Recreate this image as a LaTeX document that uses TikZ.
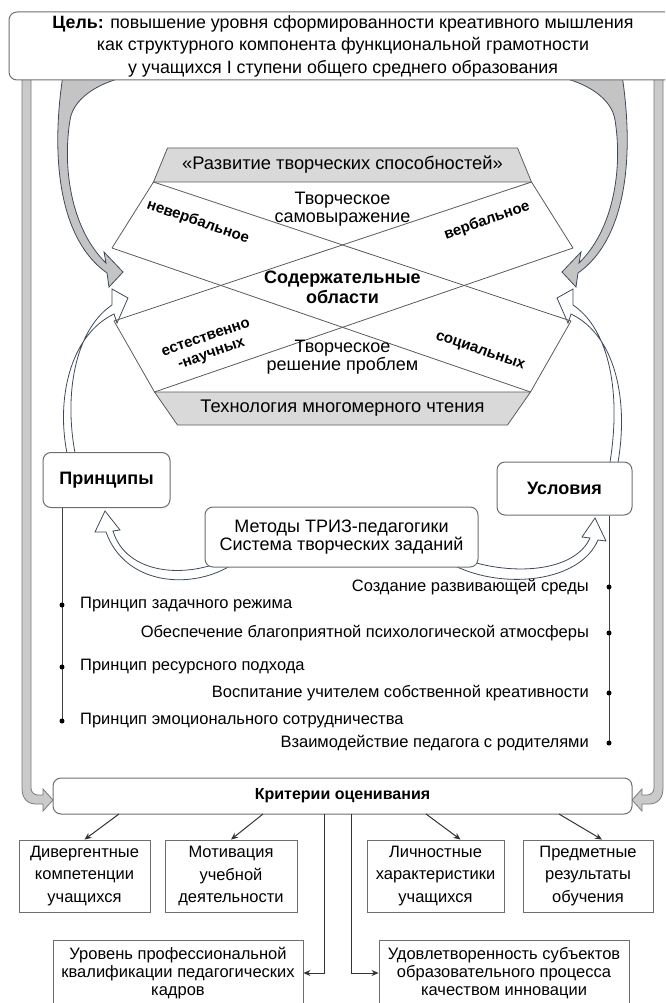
\documentclass[tikz,border=0pt]{standalone}
\usepackage{fontspec}
\setmainfont{Liberation Sans}
\usetikzlibrary{arrows.meta}

\definecolor{edgegray}{HTML}{6E6E6E}
\definecolor{trapfill}{HTML}{D9D9D9}
\definecolor{trapdraw}{HTML}{5A5A5A}
\definecolor{bandfill}{HTML}{C4C4C4}
\definecolor{banddraw}{HTML}{3E4A5C}
\definecolor{barfill}{HTML}{CACACA}
\definecolor{bardraw}{HTML}{7A7A7A}

\begin{document}
\begin{tikzpicture}[x=1pt,y=-1pt,
  rbox/.style={draw=edgegray, line width=1pt, rounded corners=8pt, fill=white, align=center, inner sep=0pt},
  sbox/.style={draw=edgegray, line width=0.9pt, fill=white, align=center, inner sep=0pt, font=\fontsize{16.5}{22.5}\selectfont},
  txt/.style={align=center, inner sep=0pt, font=\fontsize{18}{18}\selectfont},
  boldtxt/.style={align=center, inner sep=0pt, font=\fontsize{15}{17}\selectfont\bfseries},
  listitem/.style={inner sep=0pt, font=\fontsize{16.5}{20}\selectfont},
  bullet/.style={circle, fill=black, inner sep=0pt, minimum size=5pt},
  trapez/.style={fill=trapfill, draw=trapdraw, line width=0.8pt},
  xline/.style={draw=trapdraw, line width=0.8pt},
  band/.style={fill=bandfill, draw=banddraw, line width=0.8pt},
  hollow/.style={fill=white, draw=banddraw, line width=0.8pt},
  sidebar/.style={fill=barfill, draw=bardraw, line width=0.8pt},
  lnk/.style={draw=black!80, line width=1pt, -{Stealth[length=7pt,width=6pt]}},
  ]
\useasboundingbox (0,0) rectangle (665,1003);
\clip (0,0) rectangle (665,1003);

% side bars down to the criteria
\filldraw[sidebar] (22,75) -- (22,788) .. controls (22,798) and (27,804) .. (36,804) -- (43,804) -- (43,811) -- (53,800) -- (43,789) -- (43,795) -- (38,795) .. controls (34,795) and (31,792) .. (31,788) -- (31,75) -- cycle;
\filldraw[sidebar] (663,75) -- (663,788) .. controls (663,798) and (658,804) .. (649,804) -- (642,804) -- (642,811) -- (632,800) -- (642,789) -- (642,795) -- (647,795) .. controls (651,795) and (654,792) .. (654,788) -- (654,75) -- cycle;

% gray curved arrows from the goal
\filldraw[band] (63,75) .. controls (50,160) and (60,240) .. (107,273) -- (109,287) -- (123,272) -- (104,252) -- (106,263) .. controls (72,230) and (62,170) .. (70,120) .. controls (73,100) and (95,84) .. (125,77) -- cycle;
\filldraw[band] (622,75) .. controls (635,160) and (625,240) .. (578,273) -- (576,287) -- (562,272) -- (581,252) -- (579,263) .. controls (613,230) and (623,170) .. (615,120) .. controls (612,100) and (590,84) .. (560,77) -- cycle;

% hollow arrows up from principles and conditions
\filldraw[hollow] (68,458) .. controls (55,400) and (70,335) .. (114,314) -- (117,323) -- (128,298) -- (112,289) -- (112,305) .. controls (75,330) and (63,395) .. (76,458) -- cycle;
\filldraw[hollow] (617,468) .. controls (630,400) and (615,335) .. (571,314) -- (568,323) -- (557,298) -- (573,289) -- (573,305) .. controls (610,330) and (622,395) .. (609,468) -- cycle;

% hollow arrows from methods
\filldraw[hollow] (230,566) .. controls (190,590) and (125,585) .. (106,532) -- (95,532) -- (105,511) -- (120,530) -- (113,531) .. controls (126,574) and (185,580) .. (230,558) -- cycle;
\filldraw[hollow] (455,566) .. controls (505,590) and (580,582) .. (598,540) -- (606,541) -- (595,518) -- (582,537) -- (590,538) .. controls (575,572) and (510,578) .. (455,556) -- cycle;

% goal
\node[rbox, minimum width=668pt, minimum height=68pt, font=\fontsize{17.8}{22.5}\selectfont] (goal) at (343,46)
  {\textbf{Цель:} повышение уровня сформированности креативного мышления\\как структурного компонента функциональной грамотности\\у учащихся I ступени общего среднего образования};

% content areas
\coordinate (tl) at (153.5,182);
\coordinate (tr) at (531.5,182);
\coordinate (l1) at (112,248);
\coordinate (r1) at (573,248);
\coordinate (l2) at (114,321);
\coordinate (r2) at (571,321);
\coordinate (bl) at (154.5,392);
\coordinate (br) at (530.5,392);
\draw[xline] (tl) -- (l1);
\draw[xline] (tr) -- (r1);
\draw[xline] (l2) -- (bl);
\draw[xline] (r2) -- (br);
\draw[xline] (tl) -- (r2);
\draw[xline] (tr) -- (l2);
\draw[xline] (l1) -- (br);
\draw[xline] (r1) -- (bl);
\filldraw[trapez] (167.5,148) -- (517.5,148) -- (tr) -- (tl) -- cycle;
\filldraw[trapez] (bl) -- (br) -- (507.5,425) -- (177.5,425) -- cycle;

\node[txt, font=\fontsize{18.3}{20}\selectfont] (dev) at (342.5,165) {«Развитие творческих способностей»};
\node[txt] (selfexp) at (342.5,209) {Творческое\\самовыражение};
\node[boldtxt, rotate=-19] (nonverb) at (198,222) {невербальное};
\node[boldtxt, rotate=19] (verb) at (487,221) {вербальное};
\node[boldtxt, font=\fontsize{18}{20}\selectfont\bfseries] (content) at (342.5,287) {Содержательные\\области};
\node[boldtxt, rotate=19] (natsci) at (209,347) {естественно\\-научных};
\node[boldtxt, rotate=-19] (social) at (480,352) {социальных};
\node[txt] (solve) at (342.5,357) {Творческое\\решение проблем};
\node[txt, font=\fontsize{18.3}{20}\selectfont] (tech) at (342.5,408.5) {Технология многомерного чтения};

% principles, conditions, methods
\node[rbox, minimum width=127pt, minimum height=55pt, font=\fontsize{18}{20}\selectfont\bfseries] (princ) at (106.5,480) {Принципы};
\node[rbox, minimum width=135pt, minimum height=53pt, font=\fontsize{18}{20}\selectfont\bfseries] (cond) at (564.5,488.5) {Условия};
\node[rbox, minimum width=273pt, minimum height=60pt, font=\fontsize{18}{18}\selectfont] (meth) at (341.5,537) {Методы ТРИЗ-педагогики\\Система творческих заданий};

\coordinate (pl) at (62,721);
\coordinate (cl) at (609,743);
\draw[line width=0.9pt, black!75] (princ.south -| pl) -- (pl);
\draw[line width=0.9pt, black!75] (cond.south -| cl) -- (cl);
\foreach \y/\t [count=\i] in {605/Принцип задачного режима, 667/Принцип ресурсного подхода, 721/Принцип эмоционального сотрудничества}
  {\node[listitem, anchor=west] (pr\i) at (80,\y) {\t};
   \node[bullet] (prdot\i) at (pr\i.west -| pl) {};}
\foreach \y/\t [count=\i] in {587/Создание развивающей среды, 633/Обеспечение благоприятной психологической атмосферы, 693/Воспитание учителем собственной креативности, 743/Взаимодействие педагога с родителями}
  {\node[listitem, anchor=east] (cn\i) at (589,\y) {\t};
   \node[bullet] (cndot\i) at (cn\i.east -| cl) {};}

% criteria
\node[rbox, minimum width=579pt, minimum height=36pt, font=\fontsize{16}{18}\selectfont\bfseries] (crit) at (342.5,796) {Критерии оценивания};
\node[sbox, minimum width=131pt, minimum height=72pt] (div) at (84.5,876) {Дивергентные\\компетенции\\учащихся};
\node[sbox, minimum width=132pt, minimum height=72pt] (motiv) at (231,876) {Мотивация\\учебной\\деятельности};
\node[sbox, minimum width=137pt, minimum height=72pt] (pers) at (435.5,876) {Личностные\\характеристики\\учащихся};
\node[sbox, minimum width=130pt, minimum height=72pt] (subj) at (588,876) {Предметные\\результаты\\обучения};
\node[sbox, minimum width=250pt, minimum height=66pt, font=\fontsize{16.5}{18}\selectfont] (qual) at (178,973) {Уровень профессиональной\\квалификации педагогических\\кадров};
\node[sbox, minimum width=250pt, minimum height=66pt, font=\fontsize{16.5}{18}\selectfont] (satis) at (504,973) {Удовлетворенность субъектов\\образовательного процесса\\качеством инновации};

\coordinate (c1) at (119,814);
\coordinate (c2) at (263,814);
\coordinate (c3) at (426,814);
\coordinate (c4) at (559,814);
\coordinate (c5) at (324,814);
\coordinate (c6) at (351,814);
\draw[lnk] (c1) -- (div.north);
\draw[lnk] (c2) -- (motiv.north);
\draw[lnk] (c3) -- ([xshift=25pt]pers.north);
\draw[lnk] (c4) -- ([xshift=14pt]subj.north);
\draw[lnk] (c5) |- (qual.east);
\draw[lnk] (c6) |- (satis.west);
\end{tikzpicture}
\end{document}
